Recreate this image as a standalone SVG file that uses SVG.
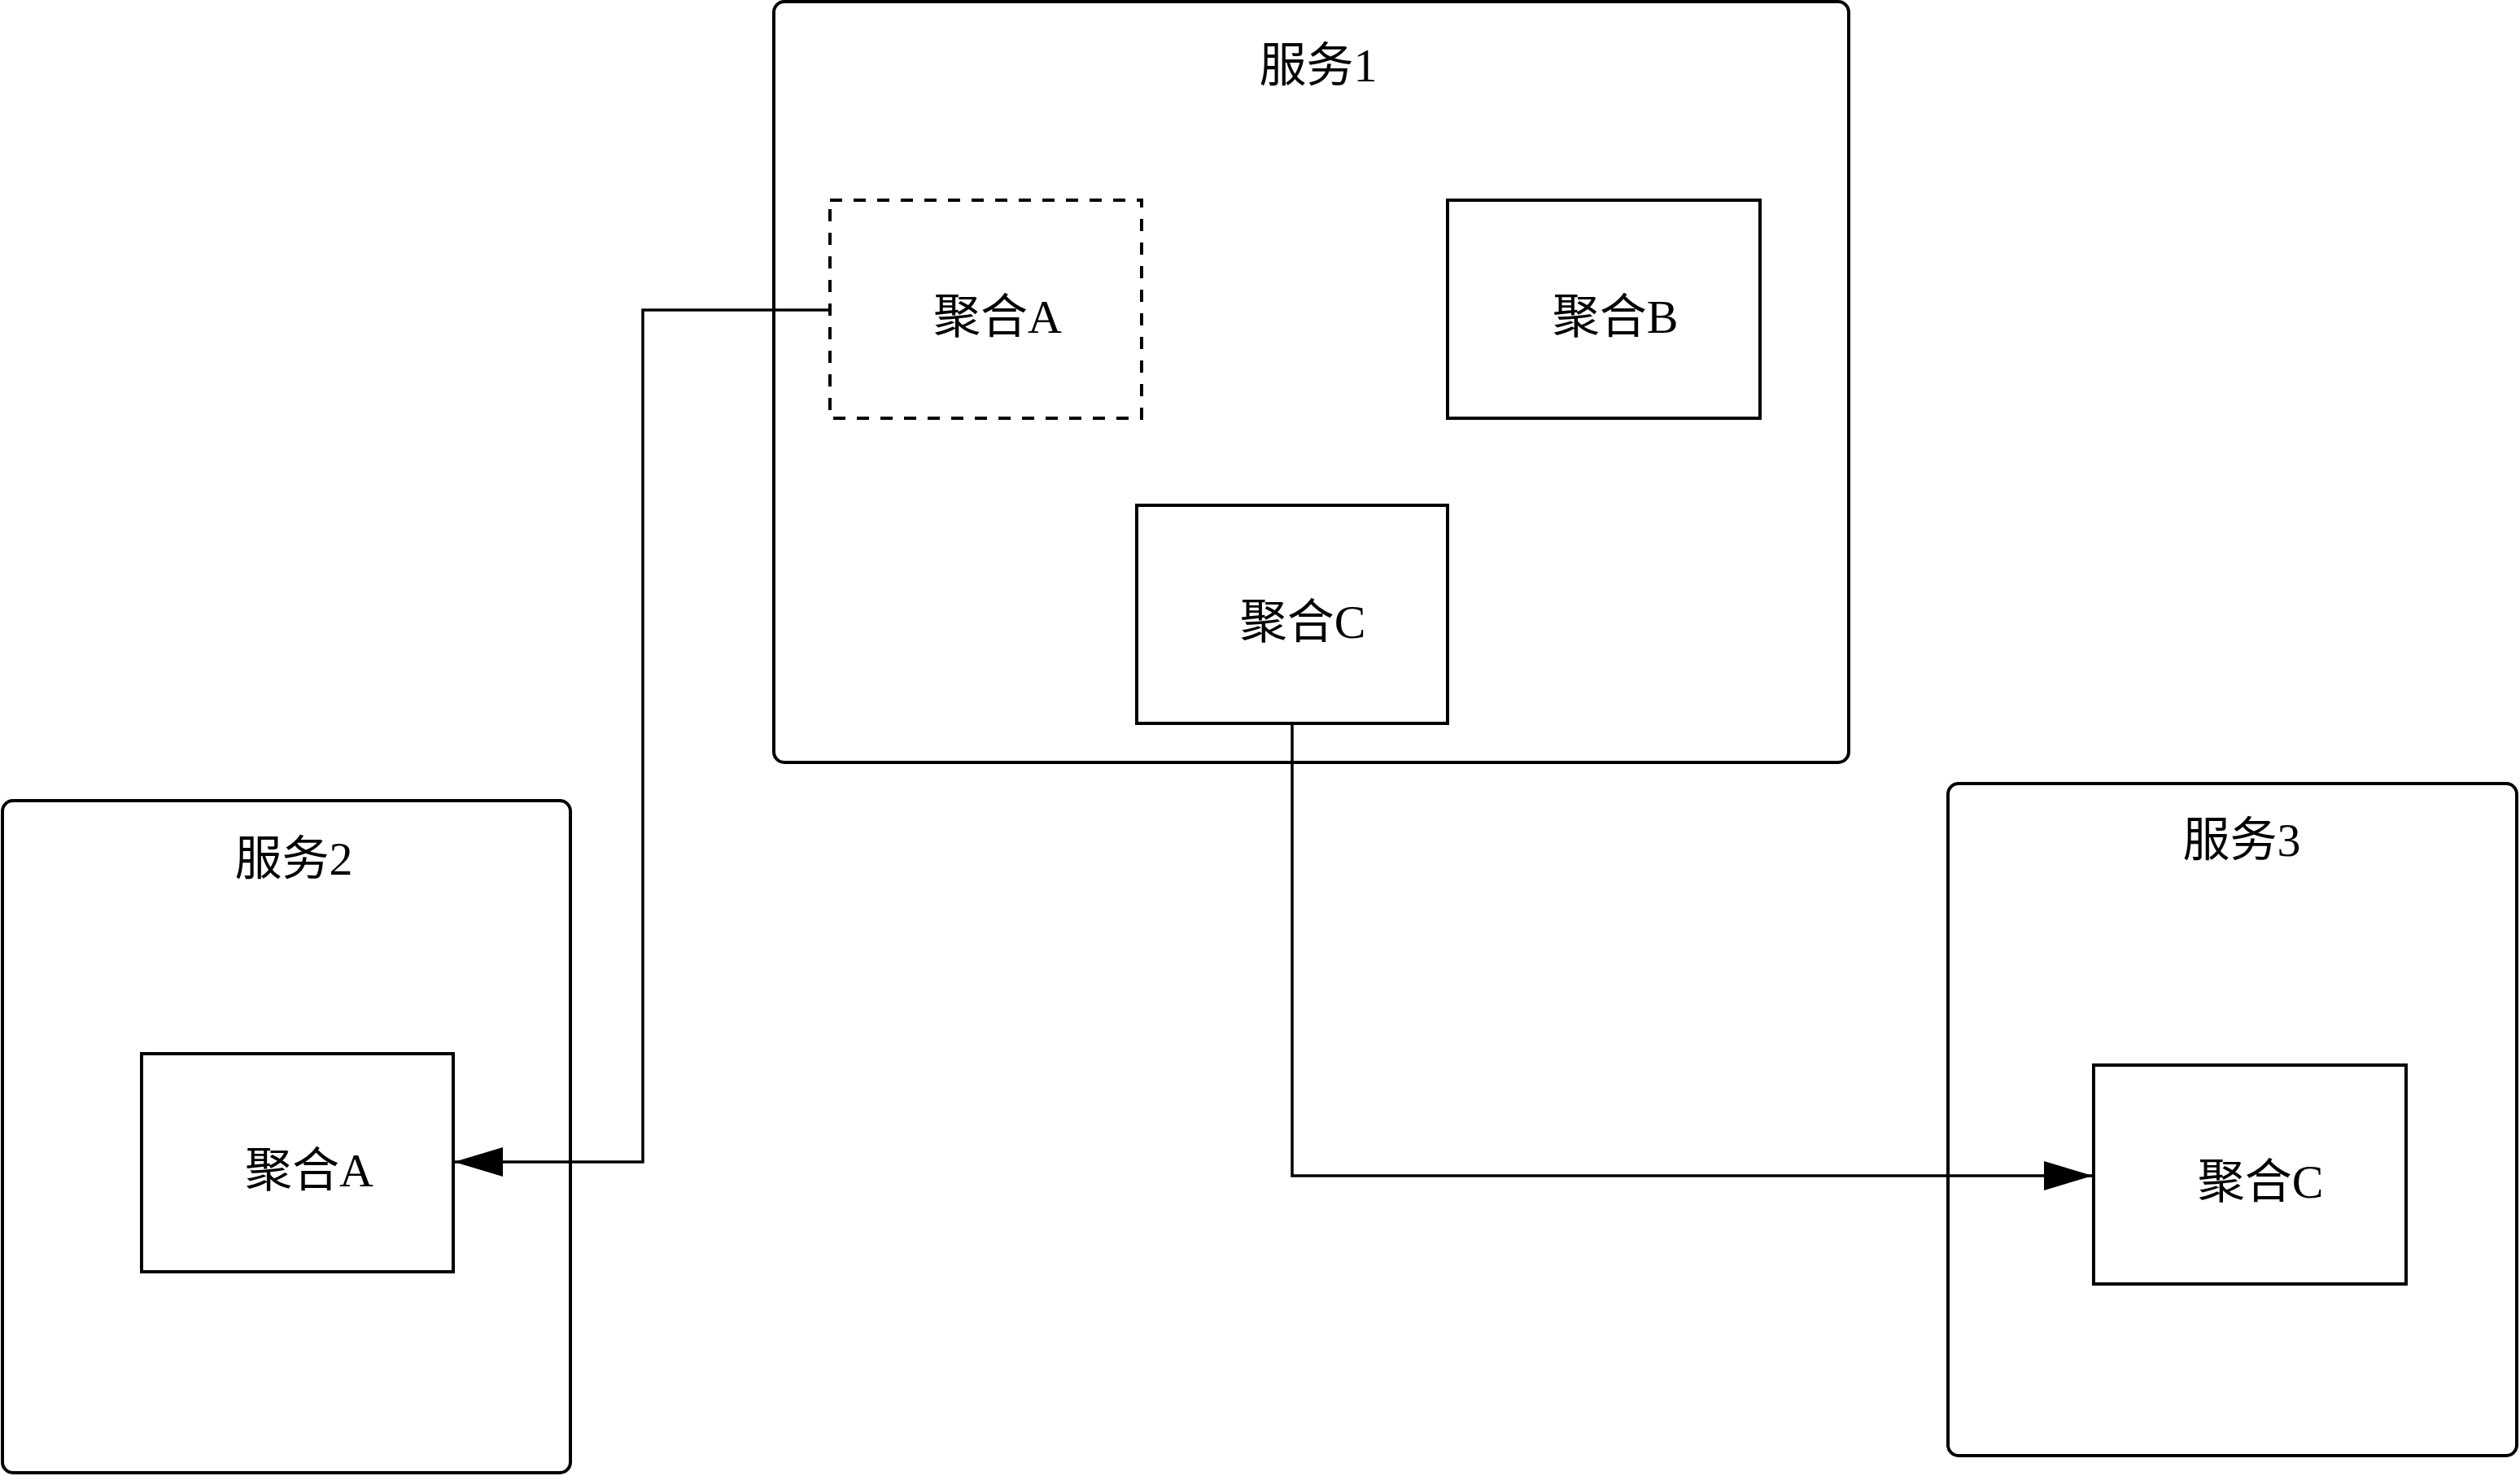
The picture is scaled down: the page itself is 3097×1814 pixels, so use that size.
<svg xmlns="http://www.w3.org/2000/svg" width="3097" height="1814" viewBox="0 0 3097 1814">
<style>
.svc{fill:#fff;stroke:#000;stroke-width:4}
.box{fill:#fff;stroke:#000;stroke-width:4}
.dash{fill:#fff;stroke:#000;stroke-width:4;stroke-dasharray:15 14}
.lbl{font-family:"Liberation Serif","Noto Sans CJK SC",serif;font-size:58px;fill:#000;text-anchor:middle}
.conn{fill:none;stroke:#000;stroke-width:3.5}
</style>
<defs>
<marker id="arr" markerUnits="userSpaceOnUse" markerWidth="60" markerHeight="36" refX="60" refY="18" orient="auto">
<path d="M0,0 L60,18 L0,36 z" fill="#000"/>
</marker>
</defs>
<rect width="3097" height="1814" fill="#fff"/>
<g id="service1">
<rect class="svc" x="951" y="2" width="1321" height="935" rx="13"/>
<text class="lbl" x="1620" y="100">服务1</text>
</g>
<g id="service2">
<rect class="svc" x="3" y="984" width="698" height="826" rx="13"/>
<text class="lbl" x="361" y="1075">服务2</text>
</g>
<g id="service3">
<rect class="svc" x="2394" y="963" width="699" height="826" rx="13"/>
<text class="lbl" x="2755" y="1052">服务3</text>
</g>
<g id="s1-aggA">
<rect class="dash" x="1020" y="246" width="383" height="268"/>
<text class="lbl" x="1226" y="409">聚合A</text>
</g>
<g id="s1-aggB">
<rect class="box" x="1779" y="246" width="384" height="268"/>
<text class="lbl" x="1985" y="409">聚合B</text>
</g>
<g id="s1-aggC">
<rect class="box" x="1397" y="621" width="382" height="268"/>
<text class="lbl" x="1601" y="784">聚合C</text>
</g>
<g id="s2-aggA">
<rect class="box" x="174" y="1295" width="383" height="268"/>
<text class="lbl" x="380" y="1458">聚合A</text>
</g>
<g id="s3-aggC">
<rect class="box" x="2573" y="1309" width="384" height="269"/>
<text class="lbl" x="2778" y="1472">聚合C</text>
</g>
<g id="connectors">
<path class="conn" d="M1020,381 H790 V1428 H558" marker-end="url(#arr)"/>
<path class="conn" d="M1588,889 V1445 H2572" marker-end="url(#arr)"/>
</g>
</svg>
